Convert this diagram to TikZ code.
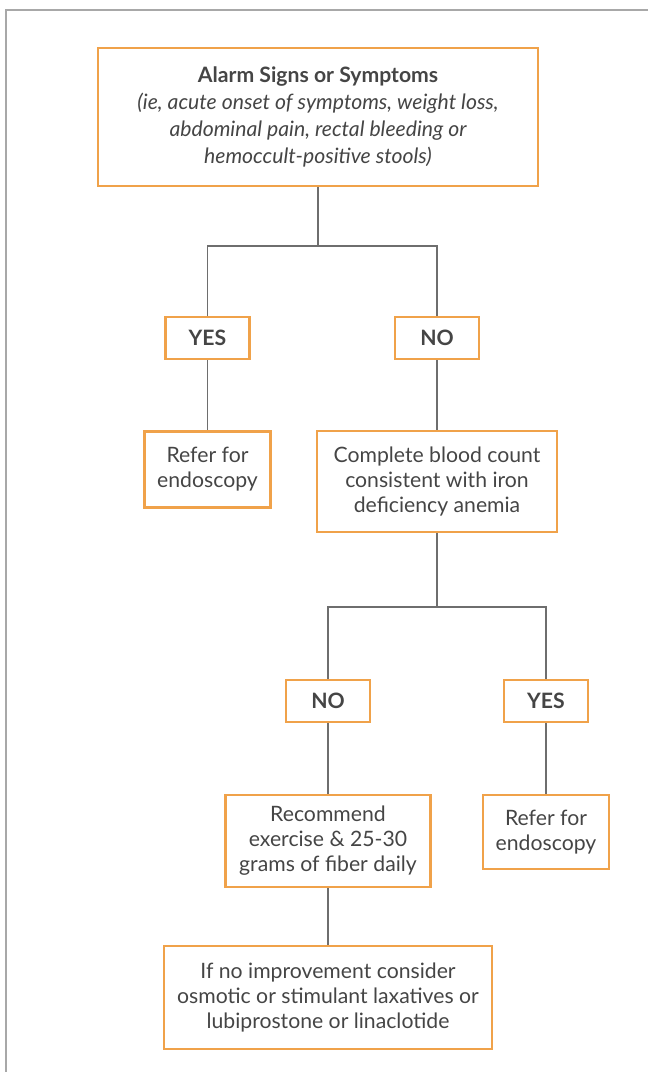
\documentclass[tikz,border=0pt]{standalone}
\usepackage{fontspec}
\setmainfont{Lato}

\definecolor{boxorange}{HTML}{F0A24A}
\definecolor{textgray}{HTML}{454545}
\definecolor{linegray}{HTML}{6E6E6E}
\definecolor{framegray}{HTML}{A8A8A8}

\tikzset{
  box/.style={draw=boxorange, line width=2.8pt, align=center, text=textgray,
    inner sep=0pt, font=\fontsize{21.2}{25}\selectfont},
  answer/.style={box, minimum width=84pt, minimum height=42pt,
    font=\fontsize{21.2}{25}\selectfont\bfseries},
  link/.style={draw=linegray, line width=1.5pt}
}

\begin{document}
\begin{tikzpicture}[x=1pt,y=-1pt]

\useasboundingbox (0,0) rectangle (648,1072);
\draw [framegray, line width=2pt] (5.5,1072) -- (5.5,10) -- (648,10);

\coordinate (alarm-pos) at (318,117);
\coordinate (yes-a-pos) at (207.5,338);
\coordinate (no-a-pos) at (437,338);
\coordinate (refer-a-pos) at (207.5,469.5);
\coordinate (blood-pos) at (437,481.5);
\coordinate (no-b-pos) at (328,701);
\coordinate (yes-b-pos) at (546,701);
\coordinate (fiber-pos) at (328,841);
\coordinate (refer-b-pos) at (546,832);
\coordinate (laxative-pos) at (328,997.5);

\coordinate (split-a) at (318,246);
\coordinate (split-b) at (437,607);

\node [box, minimum width=440pt, minimum height=138pt] (alarm) at (alarm-pos)
  {\textbf{Alarm Signs or Symptoms}\\[2pt]
   \itshape (ie, acute onset of symptoms, weight loss,\\[2pt]
   \itshape abdominal pain, rectal bleeding or\\[2pt]
   \itshape hemoccult-positive stools)};

\node [answer] (yes-a) at (yes-a-pos) {YES};
\node [answer] (no-a) at (no-a-pos) {NO};

\node [box, minimum width=126pt, minimum height=76pt] (refer-a) at (refer-a-pos)
  {Refer for\\endoscopy};
\node [box, minimum width=240pt, minimum height=101pt] (blood) at (blood-pos)
  {Complete blood count\\consistent with iron\\deficiency anemia};

\node [answer] (no-b) at (no-b-pos) {NO};
\node [answer] (yes-b) at (yes-b-pos) {YES};

\node [box, minimum width=205pt, minimum height=92pt] (fiber) at (fiber-pos)
  {Recommend\\exercise \& 25-30\\grams of fiber daily};
\node [box, minimum width=126pt, minimum height=74pt] (refer-b) at (refer-b-pos)
  {Refer for\\endoscopy};

\node [box, minimum width=328pt, minimum height=103pt] (laxative) at (laxative-pos)
  {If no improvement consider\\osmotic or stimulant laxatives or\\lubiprostone or linaclotide};

\draw [link] (alarm) -- (split-a);
\draw [link] (yes-a) |- (split-a) -| (no-a);
\draw [link] (yes-a) -- (refer-a);
\draw [link] (no-a) -- (blood);

\draw [link] (blood) -- (split-b);
\draw [link] (no-b) |- (split-b) -| (yes-b);
\draw [link] (no-b) -- (fiber);
\draw [link] (yes-b) -- (refer-b);
\draw [link] (fiber) -- (laxative);

\end{tikzpicture}
\end{document}
